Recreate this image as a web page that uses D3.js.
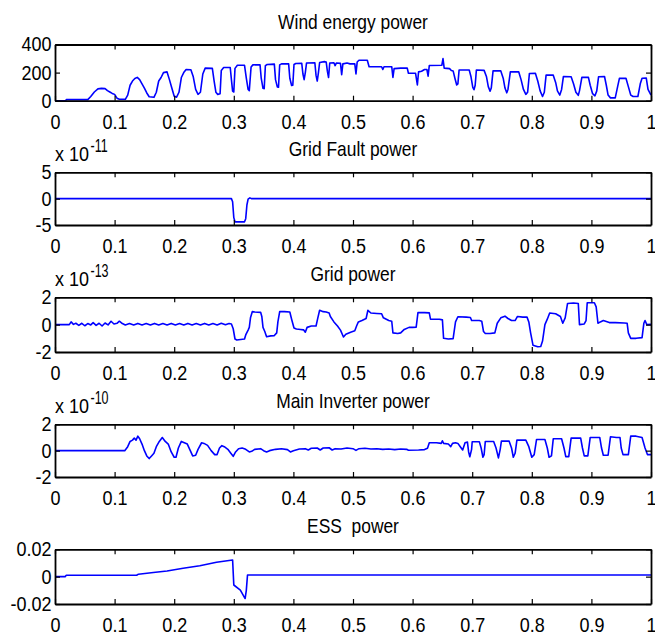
<!DOCTYPE html>
<html><head><meta charset="utf-8">
<script src="https://cdn.jsdelivr.net/npm/d3@7"></script>
<style>
html,body{margin:0;padding:0;background:#fff;}
svg{display:block;}
text{font-family:"Liberation Sans",Arial,Helvetica,sans-serif;fill:#000;}
</style></head><body>
<svg id="chart" width="655" height="634"></svg>
<script>
// ---------------- data ----------------
const titles = ["Wind energy power", "Grid Fault power", "Grid power", "Main Inverter power", "ESS  power"];
const exponents = [null, -11, -13, -10, null];
const xTicks = [0, 0.1, 0.2, 0.3, 0.4, 0.5, 0.6, 0.7, 0.8, 0.9, 1];
const yDomains = [[0, 400], [-5, 5], [-2, 2], [-2, 2], [-0.02, 0.02]];
const yTicks = [[0, 200, 400], [-5, 0, 5], [-2, 0, 2], [-2, 0, 2], [-0.02, 0, 0.02]];

// [time, value] (values in units of the panel's x 10^n exponent)
const windPower = [[0,0],[0.018,0],[0.019,8],[0.055,8],[0.06,30],[0.066,62],[0.072,84],[0.078,88],[0.084,86],[0.088,72],[0.092,62],[0.096,52],[0.1,45],[0.104,18],[0.108,10],[0.118,10],[0.122,40],[0.126,110],[0.13,140],[0.134,158],[0.138,166],[0.142,150],[0.146,120],[0.15,90],[0.154,55],[0.158,28],[0.166,24],[0.17,60],[0.174,140],[0.178,165],[0.182,200],[0.188,205],[0.192,150],[0.196,90],[0.2,32],[0.204,25],[0.208,60],[0.212,165],[0.216,200],[0.22,222],[0.228,220],[0.232,170],[0.236,80],[0.24,45],[0.244,60],[0.248,190],[0.252,232],[0.264,230],[0.267,140],[0.27,60],[0.273,45],[0.277,50],[0.279,215],[0.283,236],[0.294,236],[0.296,150],[0.298,68],[0.3,62],[0.302,230],[0.306,252],[0.318,252],[0.321,160],[0.324,80],[0.326,72],[0.329,240],[0.332,255],[0.344,256],[0.346,160],[0.349,88],[0.351,86],[0.353,250],[0.356,258],[0.368,260],[0.37,150],[0.373,98],[0.375,96],[0.377,255],[0.38,262],[0.392,262],[0.394,160],[0.397,108],[0.399,110],[0.401,258],[0.404,265],[0.414,266],[0.416,190],[0.418,150],[0.42,200],[0.422,268],[0.436,270],[0.438,180],[0.44,140],[0.442,200],[0.444,272],[0.452,278],[0.455,276],[0.457,210],[0.459,165],[0.461,268],[0.468,270],[0.47,250],[0.472,268],[0.479,266],[0.481,185],[0.483,262],[0.49,268],[0.495,262],[0.503,262],[0.505,190],[0.507,275],[0.51,288],[0.524,288],[0.527,242],[0.548,242],[0.55,222],[0.552,242],[0.565,242],[0.567,165],[0.569,228],[0.58,232],[0.591,232],[0.593,195],[0.605,195],[0.607,140],[0.608,112],[0.61,205],[0.615,210],[0.62,222],[0.624,222],[0.626,175],[0.628,250],[0.649,252],[0.651,300],[0.653,232],[0.662,228],[0.665,215],[0.668,212],[0.671,160],[0.674,112],[0.676,120],[0.678,218],[0.695,218],[0.698,170],[0.701,95],[0.703,78],[0.705,110],[0.707,218],[0.72,216],[0.724,170],[0.727,100],[0.73,68],[0.732,90],[0.735,212],[0.748,212],[0.752,160],[0.755,90],[0.758,56],[0.76,80],[0.764,205],[0.778,206],[0.782,150],[0.786,80],[0.79,45],[0.793,60],[0.796,194],[0.806,195],[0.81,140],[0.814,70],[0.818,30],[0.821,60],[0.824,182],[0.836,182],[0.84,130],[0.843,70],[0.847,40],[0.85,80],[0.853,172],[0.866,170],[0.87,120],[0.874,60],[0.878,38],[0.88,70],[0.884,166],[0.895,166],[0.898,110],[0.902,50],[0.906,35],[0.909,70],[0.912,170],[0.922,172],[0.925,110],[0.928,40],[0.932,20],[0.94,20],[0.944,100],[0.947,159],[0.958,160],[0.962,100],[0.966,40],[0.97,30],[0.978,30],[0.982,120],[0.985,160],[0.992,162],[0.995,80],[1,40]];

const faultPower = [[0,0],[0.296,0],[0.298,-0.6],[0.3,-3.6],[0.302,-4.4],[0.318,-4.4],[0.32,-3.8],[0.322,-1.2],[0.324,-0.1],[0.327,0.15],[0.33,0],[1,0]];

const gridPower = [[0,0],[0.024,0],[0.027,0.2],[0.031,0.02],[0.035,0.1],[0.04,-0.05],[0.045,0.1],[0.05,-0.08],[0.055,0.08],[0.06,-0.02],[0.064,0.15],[0.069,-0.05],[0.074,0.1],[0.079,-0.1],[0.084,0.12],[0.089,-0.02],[0.094,0.25],[0.099,0.05],[0.104,0.1],[0.108,0.25],[0.113,0.08],[0.118,-0.02],[0.125,0.08],[0.132,-0.03],[0.139,0.09],[0.146,-0.02],[0.153,0.08],[0.16,-0.03],[0.167,0.09],[0.174,-0.02],[0.181,0.08],[0.188,-0.03],[0.195,0.09],[0.202,-0.02],[0.209,0.08],[0.216,-0.03],[0.223,0.09],[0.23,-0.02],[0.237,0.08],[0.244,-0.03],[0.251,0.09],[0.258,-0.02],[0.265,0.08],[0.272,-0.03],[0.279,0.1],[0.286,-0.01],[0.292,0.08],[0.296,0.05],[0.299,-0.3],[0.302,-1.05],[0.305,-1.12],[0.318,-1.05],[0.32,-0.75],[0.324,-0.4],[0.326,-0.2],[0.328,0.5],[0.331,0.95],[0.335,0.92],[0.345,0.9],[0.347,0.6],[0.349,-0.2],[0.352,-0.5],[0.355,-0.88],[0.362,-0.82],[0.368,-0.8],[0.372,-0.6],[0.374,0.2],[0.377,0.95],[0.385,0.95],[0.394,0.92],[0.397,0.4],[0.401,-0.25],[0.405,-0.32],[0.412,-0.35],[0.417,-0.38],[0.42,-0.55],[0.423,-0.2],[0.43,-0.1],[0.438,-0.1],[0.441,0.5],[0.444,1.05],[0.45,0.95],[0.455,0.92],[0.46,0.85],[0.462,0.6],[0.468,0.2],[0.474,-0.1],[0.479,-0.4],[0.484,-0.9],[0.488,-0.7],[0.496,-0.55],[0.503,-0.45],[0.506,-0.1],[0.509,0.2],[0.515,0.3],[0.522,0.45],[0.525,1.05],[0.53,0.85],[0.54,0.82],[0.548,0.8],[0.551,0.5],[0.56,0.3],[0.565,0.25],[0.567,-0.6],[0.575,-0.65],[0.58,-0.6],[0.586,-0.35],[0.594,-0.2],[0.6,-0.2],[0.606,-0.18],[0.609,0.88],[0.62,0.88],[0.628,0.86],[0.63,0.4],[0.645,0.4],[0.65,0.35],[0.652,-1],[0.66,-1.05],[0.668,-1.02],[0.672,0.2],[0.676,0.58],[0.69,0.55],[0.697,0.52],[0.699,0.3],[0.712,0.3],[0.716,0.25],[0.719,-0.5],[0.722,-0.65],[0.73,-0.65],[0.738,-0.6],[0.742,0.1],[0.748,0.5],[0.755,0.62],[0.76,0.45],[0.766,0.3],[0.772,0.3],[0.776,0.6],[0.785,0.55],[0.792,0.55],[0.795,0.2],[0.798,-0.6],[0.802,-1.5],[0.81,-1.62],[0.815,-1.6],[0.818,-1.2],[0.822,0],[0.826,0.4],[0.83,0.85],[0.84,0.8],[0.848,0.6],[0.852,0.1],[0.856,0.5],[0.86,1.55],[0.87,1.58],[0.878,1.55],[0.88,0],[0.888,0.05],[0.891,0.3],[0.893,1.6],[0.905,1.6],[0.908,1.3],[0.911,0.1],[0.915,0.2],[0.92,0.3],[0.93,0.15],[0.94,0.15],[0.955,0.12],[0.96,0.1],[0.962,-0.6],[0.966,-1],[0.975,-1],[0.985,-0.95],[0.988,0.1],[0.99,0.3],[0.993,0],[1,0.02]];

const inverterPower = [[0,0],[0.117,0],[0.122,0.3],[0.126,0.7],[0.13,0.8],[0.133,0.95],[0.136,0.8],[0.139,1.1],[0.142,0.9],[0.146,0.5],[0.15,0],[0.154,-0.4],[0.158,-0.6],[0.162,-0.4],[0.166,-0.2],[0.17,0.3],[0.175,0.7],[0.18,1],[0.185,0.7],[0.19,0.5],[0.195,-0.1],[0.2,-0.5],[0.203,-0.5],[0.207,0.2],[0.212,0.7],[0.217,0.6],[0.222,0.5],[0.227,0],[0.231,-0.4],[0.236,-0.35],[0.24,0.1],[0.246,0.6],[0.25,0.55],[0.256,0.4],[0.262,0],[0.268,-0.3],[0.272,-0.3],[0.276,0.2],[0.28,0.38],[0.284,0.3],[0.29,0.1],[0.295,-0.2],[0.299,-0.43],[0.303,-0.1],[0.308,0.15],[0.314,0.2],[0.32,0.1],[0.326,-0.1],[0.33,-0.05],[0.335,0.1],[0.345,0.15],[0.35,0],[0.355,-0.1],[0.36,0],[0.37,0.1],[0.38,0.15],[0.39,0.08],[0.395,-0.1],[0.4,0],[0.41,0.12],[0.42,0.15],[0.425,0.05],[0.43,0.18],[0.44,0.2],[0.445,0.05],[0.45,0.2],[0.46,0.22],[0.465,0.05],[0.47,0.15],[0.48,0.12],[0.49,0.2],[0.5,0.15],[0.505,0.02],[0.51,0.15],[0.52,0.18],[0.53,0.12],[0.54,0.15],[0.55,0.1],[0.56,0.12],[0.57,0.08],[0.58,0.12],[0.59,0.1],[0.593,0.03],[0.61,0.05],[0.62,0.08],[0.625,0.18],[0.628,0.6],[0.64,0.6],[0.648,0.55],[0.65,0.75],[0.652,0.55],[0.66,0.5],[0.664,0.3],[0.667,0.55],[0.672,0.6],[0.676,0.55],[0.68,0.3],[0.684,0.05],[0.688,0.6],[0.692,0.65],[0.694,-0.1],[0.696,-0.46],[0.699,0.1],[0.7,0.68],[0.712,0.68],[0.715,0.2],[0.718,-0.5],[0.72,-0.3],[0.722,0.7],[0.736,0.7],[0.74,0.2],[0.744,-0.55],[0.747,0.1],[0.749,0.72],[0.762,0.72],[0.766,0.2],[0.769,-0.5],[0.772,-0.2],[0.775,0.8],[0.79,0.8],[0.795,0.3],[0.8,-0.5],[0.804,-0.3],[0.808,0.85],[0.822,0.85],[0.826,0.2],[0.829,-0.5],[0.833,-0.4],[0.836,0.9],[0.85,0.9],[0.854,0.2],[0.857,-0.45],[0.862,-0.45],[0.866,0.95],[0.882,0.95],[0.885,0.2],[0.888,-0.4],[0.894,-0.4],[0.898,1],[0.914,1],[0.917,0.2],[0.92,-0.35],[0.928,-0.35],[0.932,1.05],[0.942,1],[0.948,1],[0.95,0.2],[0.953,-0.3],[0.962,-0.3],[0.966,1.1],[0.975,1.1],[0.985,1.0],[0.99,0.2],[0.994,-0.3],[1,-0.3]];

const essPower = [[0,0],[0.017,0],[0.019,0.001],[0.137,0.001],[0.14,0.0018],[0.165,0.003],[0.188,0.0041],[0.215,0.0061],[0.243,0.008],[0.271,0.0105],[0.298,0.0122],[0.3,-0.0061],[0.311,-0.0098],[0.319,-0.016],[0.321,-0.01],[0.323,0.0012],[1,0.0012]];

const series = [windPower, faultPower, gridPower, inverterPower, essPower];

// ---------------- drawing ----------------
const svg = d3.select("#chart");
const left = 55, right = 651;
const tops = [44.5, 172.3, 297.3, 424.3, 549.3];
const bottoms = [100.7, 225, 352, 477, 604];
const x = d3.scaleLinear().domain([0, 1]).range([left, right]);
const fmt = d => String(d);
const sy = 1.12;

series.forEach((data, i) => {
  const y = d3.scaleLinear().domain(yDomains[i]).range([bottoms[i], tops[i]]);
  const g = svg.append("g");

  g.append("path").datum(data)
    .attr("d", d3.line().x(d => x(d[0])).y(d => y(d[1])))
    .attr("fill", "none").attr("stroke", "#0000ff")
    .attr("stroke-width", 1.6).attr("stroke-linejoin", "round");

  const axB = g.append("g").attr("transform", `translate(0,${bottoms[i]})`)
    .call(d3.axisBottom(x).tickValues(xTicks).tickFormat(fmt).tickSizeInner(-5).tickSizeOuter(0).tickPadding(12.2));
  const axT = g.append("g").attr("transform", `translate(0,${tops[i]})`)
    .call(d3.axisTop(x).tickValues(xTicks).tickFormat("").tickSizeInner(-5).tickSizeOuter(0));
  const axL = g.append("g").attr("transform", `translate(${left},0)`)
    .call(d3.axisLeft(y).tickValues(yTicks[i]).tickFormat(fmt).tickSizeInner(-5).tickSizeOuter(0).tickPadding(3.5));
  const axR = g.append("g").attr("transform", `translate(${right},0)`)
    .call(d3.axisRight(y).tickValues(yTicks[i]).tickFormat("").tickSizeInner(-5).tickSizeOuter(0));

  [axB, axT, axL, axR].forEach(a => {
    a.select(".domain").attr("stroke", "#000").attr("stroke-width", 1.8);
    a.selectAll(".tick line").attr("stroke", "#000").attr("stroke-width", 1.2);
    a.selectAll("text").attr("font-size", 18).attr("font-family", "Liberation Sans, Arial, sans-serif").attr("fill", "#000")
      .attr("transform", `scale(1,${sy})`);
  });

  // title
  svg.append("text")
    .attr("transform", `translate(${(left + right) / 2},${tops[i] - 16}) scale(1,1.13)`)
    .attr("text-anchor", "middle").attr("font-size", 17.4)
    .style("white-space", "pre")
    .text(titles[i]);

  // exponent
  if (exponents[i] !== null) {
    svg.append("text")
      .attr("transform", `translate(${left},${tops[i] - 11}) scale(1,${sy})`)
      .attr("font-size", 18).style("white-space", "pre").text("x 10");
    svg.append("text")
      .attr("transform", `translate(${left + 35.5},${tops[i] - 20.5}) scale(1,1.45)`)
      .attr("font-size", 12.5).text(String(exponents[i]));
  }
});
</script>
</body></html>
